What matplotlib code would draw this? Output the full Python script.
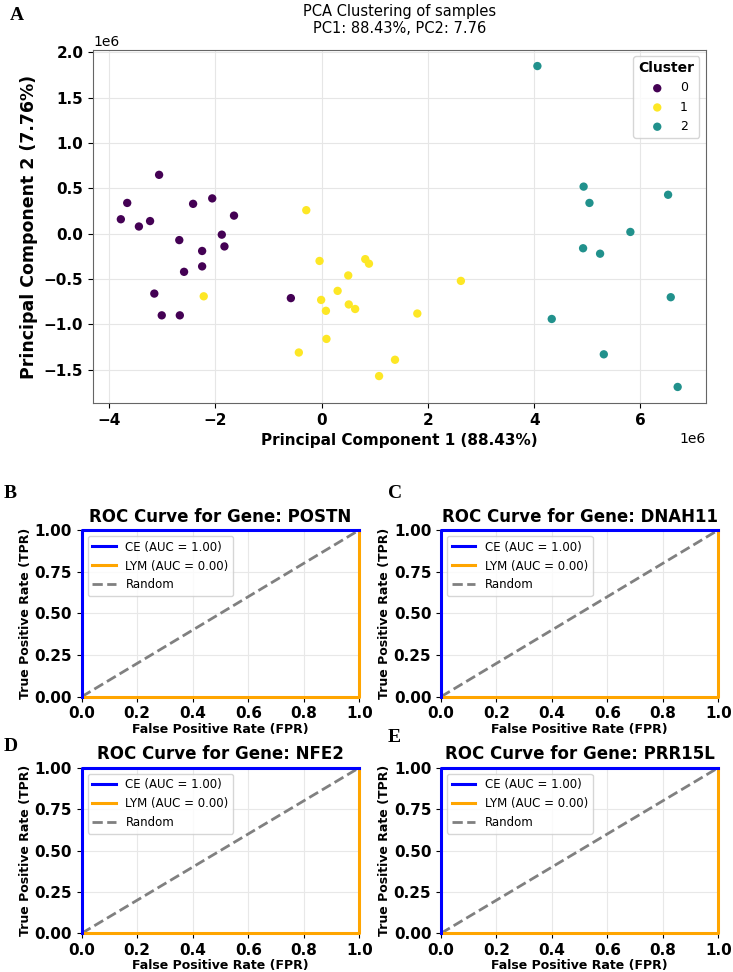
import numpy as np
import matplotlib
matplotlib.use("Agg")
import matplotlib.pyplot as plt

# PCA scores (x1e6)
c0_pc1 = [-3.06, -3.66, -3.78, -3.44, -3.23, -2.42, -2.06, -1.65, -2.68, -1.88,
          -1.83, -2.25, -2.25, -2.59, -3.15, -3.01, -2.67, -0.58]
c0_pc2 = [0.65, 0.34, 0.16, 0.08, 0.14, 0.33, 0.39, 0.20, -0.07, -0.01,
          -0.14, -0.19, -0.36, -0.42, -0.66, -0.90, -0.90, -0.71]
c1_pc1 = [-2.22, -0.29, -0.04, 0.82, 0.89, 0.50, 0.30, -0.01, 0.51, 0.63,
          0.08, 2.62, 1.80, 0.09, -0.43, 1.38, 1.08]
c1_pc2 = [-0.69, 0.26, -0.30, -0.28, -0.33, -0.46, -0.63, -0.73, -0.78, -0.83,
          -0.85, -0.52, -0.88, -1.16, -1.31, -1.39, -1.57]
c2_pc1 = [4.06, 4.93, 6.52, 5.04, 5.81, 4.92, 5.24, 6.57, 4.33, 5.31, 6.70]
c2_pc2 = [1.85, 0.52, 0.43, 0.34, 0.02, -0.16, -0.22, -0.70, -0.94, -1.33, -1.69]
clusters = ["0", "1", "2"]
cluster_colors = ["#440154", "#fde725", "#21918c"]

# ROC curves (same for every gene)
genes = ["POSTN", "DNAH11", "NFE2", "PRR15L"]
panel_letters = ["B", "C", "D", "E"]
ce_fpr, ce_tpr = [0, 0, 1], [0, 1, 1]
lym_fpr, lym_tpr = [0, 1, 1], [0, 0, 1]
ce_auc, lym_auc = 1.00, 0.00

fig = plt.figure(figsize=(7.33, 9.72), dpi=100)
W, H = 733, 972

def box(l, t, r, b):
    return [l / W, 1 - b / H, (r - l) / W, (b - t) / H]

# ---- panel A: PCA scatter
ax = fig.add_axes(box(93, 50, 705.5, 403))
pcs = [(c0_pc1, c0_pc2), (c1_pc1, c1_pc2), (c2_pc1, c2_pc2)]
for (x, y), lab, col in zip(pcs, clusters, cluster_colors):
    ax.scatter(np.array(x) * 1e6, np.array(y) * 1e6, s=36, color=col,
               edgecolor="none", label=lab, zorder=3)
ax.set_title("PCA Clustering of samples\nPC1: 88.43%, PC2: 7.76", fontsize=10.5, pad=12)
ax.set_xlabel("Principal Component 1 (88.43%)", fontsize=11, fontweight="bold")
ax.set_ylabel("Principal Component 2 (7.76%)", fontsize=12.5, fontweight="bold")
ax.grid(True, color="#e6e6e6", linewidth=0.8)
ax.set_axisbelow(True)
for lbl in ax.get_xticklabels() + ax.get_yticklabels():
    lbl.set_fontweight("bold")
ax.tick_params(labelsize=11)
for s in ax.spines.values():
    s.set_color("#666666")
leg = ax.legend(title="Cluster", loc="upper right", fontsize=9,
                title_fontproperties={"weight": "bold", "size": 10})
ax.xaxis.get_offset_text().set_fontsize(10)
ax.yaxis.get_offset_text().set_fontsize(10)
fig.text(10 / W, 1 - 16 / H, "A", family="Liberation Serif", fontweight="bold",
         fontsize=14, va="center")

# ---- panels B-E: ROC curves
roc_boxes = [(81.7, 530, 359.3, 696.7), (441, 530, 718.3, 696.7),
             (81.7, 767.7, 359.3, 933.3), (441, 767.7, 718.3, 933.3)]
letter_pos = [(4, 493), (388, 493), (4, 746), (388, 737)]
for gene, letter, bx, lp in zip(genes, panel_letters, roc_boxes, letter_pos):
    a = fig.add_axes(box(*bx))
    a.plot(lym_fpr, lym_tpr, color="orange", lw=2.2, clip_on=False, zorder=3,
           label=f"LYM (AUC = {lym_auc:.2f})")
    a.plot(ce_fpr, ce_tpr, color="blue", lw=2.2, clip_on=False, zorder=4,
           label=f"CE (AUC = {ce_auc:.2f})")
    a.plot([0, 1], [0, 1], color="gray", lw=2, linestyle="--", label="Random")
    a.set_xlim(0, 1)
    a.set_ylim(0, 1)
    a.set_xticks([0, 0.2, 0.4, 0.6, 0.8, 1.0])
    a.set_yticks([0, 0.25, 0.5, 0.75, 1.0])
    a.set_xticklabels(["0.0", "0.2", "0.4", "0.6", "0.8", "1.0"])
    a.set_yticklabels(["0.00", "0.25", "0.50", "0.75", "1.00"])
    a.tick_params(labelsize=11)
    for lbl in a.get_xticklabels() + a.get_yticklabels():
        lbl.set_fontweight("bold")
    a.set_title(f"ROC Curve for Gene: {gene}", fontsize=12, fontweight="bold")
    a.set_xlabel("False Positive Rate (FPR)", fontsize=9, fontweight="bold", labelpad=1)
    a.set_ylabel("True Positive Rate (TPR)", fontsize=9, fontweight="bold", labelpad=2)
    a.grid(True, color="#e8e8e8", linewidth=0.8)
    for s in a.spines.values():
        s.set_color("#888888")
    h, l = a.get_legend_handles_labels()
    a.legend([h[1], h[0], h[2]], [l[1], l[0], l[2]], loc="upper left", fontsize=8.5)
    fig.text(lp[0] / W, 1 - lp[1] / H, letter, family="Liberation Serif",
             fontweight="bold", fontsize=14, va="center")

fig.savefig("out.png", dpi=100)
